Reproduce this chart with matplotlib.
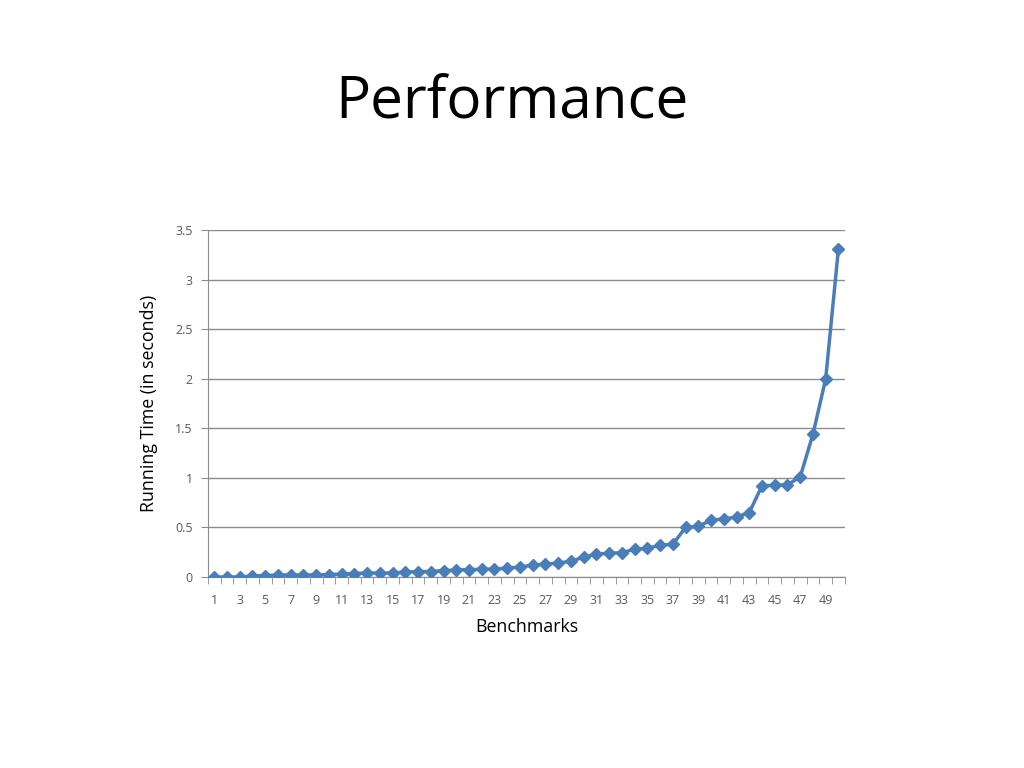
import numpy as np
import matplotlib
matplotlib.use('Agg')
import matplotlib.pyplot as plt
from matplotlib.ticker import FixedLocator

# benchmark index and running time (seconds), sorted
benchmarks = list(range(1, 51))
run_time = [0.0, 0.0, 0.0, 0.01, 0.015, 0.02, 0.02, 0.02, 0.02, 0.025,
            0.03, 0.035, 0.04, 0.04, 0.04, 0.05, 0.055, 0.055, 0.065, 0.07,
            0.075, 0.078, 0.08, 0.09, 0.10, 0.12, 0.13, 0.14, 0.16, 0.20,
            0.23, 0.24, 0.245, 0.28, 0.29, 0.32, 0.33, 0.50, 0.51, 0.575,
            0.585, 0.605, 0.65, 0.92, 0.925, 0.93, 1.01, 1.44, 2.0, 3.31]
y_ticks = [0, 0.5, 1, 1.5, 2, 2.5, 3, 3.5]
y_labels = ['0', '0.5', '1', '1.5', '2', '2.5', '3', '3.5']
tick_labels = [str(b) for b in benchmarks[::2]]

plt.rcParams['font.family'] = ['Open Sans', 'DejaVu Sans']

fig = plt.figure(figsize=(10.24, 7.68), dpi=100)
ax = fig.add_axes([0.203, 0.2487, 0.622, 0.4518])

line_col = '#4a7ebb'
grid_col = '#8c8c8c'
ax.plot(benchmarks, run_time, color=line_col, lw=2.5, marker='D', ms=6,
        mfc=line_col, mec=line_col, zorder=3)

ax.set_xlim(0.5, 50.5)
ax.set_ylim(0, 3.5)
ax.set_yticks(y_ticks)
ax.set_yticklabels(y_labels)
ax.set_xticks(benchmarks[::2])
ax.set_xticklabels(tick_labels)
ax.xaxis.set_minor_locator(FixedLocator(np.arange(0.5, 51, 1)))
ax.tick_params(axis='x', which='major', length=0, pad=12, labelsize=9, labelcolor='#595959')
ax.tick_params(axis='x', which='minor', length=5, color=grid_col, direction='out')
ax.tick_params(axis='y', length=5, color=grid_col, labelsize=9, labelcolor='#595959', pad=6)

ax.grid(axis='y', color=grid_col, lw=1)
ax.set_axisbelow(True)
for side in ['top', 'right']:
    ax.spines[side].set_visible(False)
for side in ['left', 'bottom']:
    ax.spines[side].set_color(grid_col)

ax.set_xlabel('Benchmarks', fontsize=12.8, labelpad=8)
ax.set_ylabel('Running Time (in seconds)', fontsize=12.8, labelpad=12)

fig.text(0.5, 0.865, 'Performance', ha='center', va='center', fontsize=42)

fig.savefig('out.png', dpi=100)
